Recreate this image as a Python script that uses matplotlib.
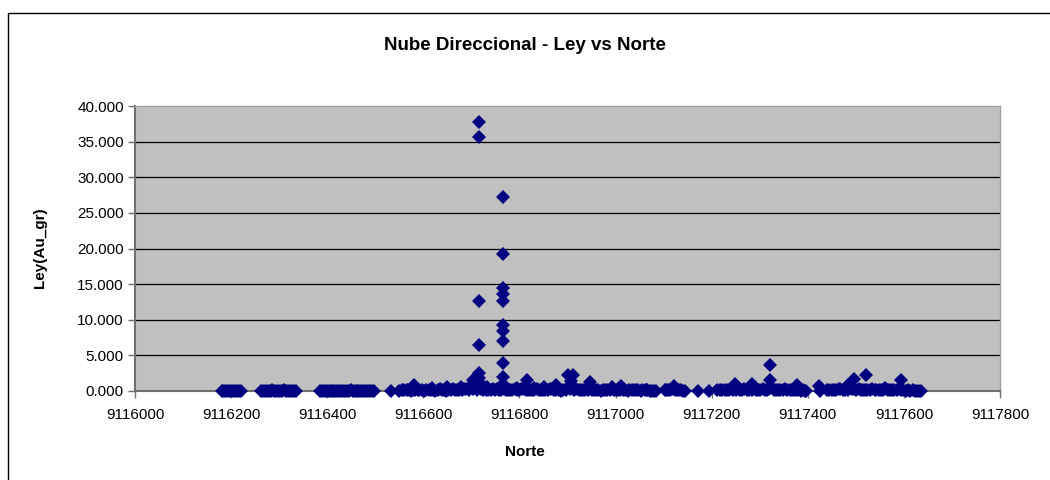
import matplotlib
matplotlib.use("Agg")
import matplotlib.pyplot as plt
from matplotlib.patches import Rectangle

plt.rcParams['font.family'] = ['Liberation Sans', 'DejaVu Sans']

# --- data: near-zero samples (Norte, Ley) ---
norte_bajo = [
    9116180, 9116188, 9116196, 9116204, 9116212, 9116220,
    9116262, 9116270, 9116278, 9116286, 9116294, 9116302, 9116310, 9116318, 9116326, 9116334,
    9116385, 9116393, 9116401, 9116409, 9116417, 9116425, 9116433, 9116441, 9116449, 9116457,
    9116465, 9116473, 9116481, 9116489, 9116497,
    9116532,
    9116550, 9116560, 9116569, 9116578, 9116588, 9116597, 9116606, 9116615, 9116625, 9116634,
    9116643, 9116652, 9116661, 9116670, 9116680, 9116689, 9116698, 9116707, 9116716, 9116725,
    9116735, 9116744, 9116753, 9116762, 9116771, 9116780, 9116790, 9116799, 9116808, 9116817,
    9116826, 9116836, 9116845, 9116854, 9116863, 9116872, 9116882, 9116891, 9116900, 9116909,
    9116918, 9116928, 9116937, 9116946, 9116955, 9116964, 9116974, 9116983, 9116992, 9117001,
    9117010, 9117020, 9117029, 9117038, 9117047, 9117056, 9117066, 9117075, 9117084,
    9117102, 9117110, 9117118, 9117128, 9117136, 9117144,
    9117171, 9117194,
    9117212, 9117222, 9117231, 9117240, 9117250, 9117259, 9117268, 9117278, 9117287, 9117296,
    9117306, 9117315, 9117324, 9117334, 9117343, 9117352, 9117362, 9117371, 9117380, 9117390,
    9117397,
    9117425,
    9117440, 9117450, 9117459, 9117468, 9117478, 9117487, 9117496, 9117506, 9117515, 9117524,
    9117534, 9117543, 9117552, 9117562, 9117571, 9117580, 9117590, 9117599, 9117608, 9117618,
    9117627, 9117635,
]
ley_bajo = [
    0.02, 0.01, 0.03, 0.02, 0.05, 0.01,
    0.02, 0.03, 0.05, 0.08, 0.04, 0.02, 0.10, 0.06, 0.03, 0.01,
    0.01, 0.02, 0.03, 0.02, 0.05, 0.04, 0.06, 0.03, 0.08, 0.05,
    0.04, 0.07, 0.03, 0.05, 0.02,
    0.02,
    0.05, 0.10, 0.20, 0.12, 0.08, 0.15, 0.20, 0.10, 0.05, 0.25,
    0.15, 0.10, 0.30, 0.12, 0.20, 0.35, 0.60, 0.90, 0.40, 0.20,
    0.15, 0.25, 0.30, 0.10, 0.20, 0.15, 0.25, 0.10, 0.30, 0.20,
    0.15, 0.25, 0.10, 0.20, 0.30, 0.15, 0.10, 0.20, 0.50, 0.40,
    0.30, 0.20, 0.15, 0.25, 0.10, 0.20, 0.15, 0.10, 0.25, 0.20,
    0.15, 0.10, 0.20, 0.15, 0.10, 0.08, 0.15, 0.05, 0.02,
    0.10, 0.20, 0.30, 0.15, 0.10, 0.05,
    0.03, 0.03,
    0.10, 0.20, 0.15, 0.30, 0.20, 0.10, 0.25, 0.15, 0.35, 0.20,
    0.30, 0.20, 0.50, 0.20, 0.15, 0.30, 0.10, 0.20, 0.15, 0.10,
    0.05,
    0.05,
    0.10, 0.20, 0.15, 0.30, 0.20, 0.40, 0.25, 0.30, 0.20, 0.15,
    0.30, 0.20, 0.15, 0.25, 0.10, 0.20, 0.30, 0.15, 0.10, 0.08,
    0.05, 0.02,
]

# --- data: additional low samples between the ones above ---
norte_bajo2 = [
    9116184, 9116192, 9116200, 9116208, 9116216,
    9116266, 9116274, 9116282, 9116290, 9116298, 9116306, 9116314, 9116322, 9116330,
    9116389, 9116397, 9116405, 9116413, 9116421, 9116429, 9116437, 9116445, 9116453, 9116461,
    9116469, 9116477, 9116485, 9116493,
    9116555, 9116565, 9116574, 9116583, 9116592, 9116602, 9116611, 9116620, 9116630, 9116639,
    9116648, 9116657, 9116666, 9116675, 9116685, 9116694, 9116703, 9116712, 9116721, 9116730,
    9116740, 9116749, 9116758, 9116767, 9116776, 9116785, 9116795, 9116804, 9116813, 9116822,
    9116831, 9116841, 9116850, 9116859, 9116868, 9116877, 9116887, 9116896, 9116905, 9116914,
    9116923, 9116933, 9116942, 9116951, 9116960, 9116969, 9116979, 9116988, 9116997, 9117006,
    9117015, 9117025, 9117034, 9117043, 9117052, 9117061, 9117071, 9117080,
    9117106, 9117114, 9117123, 9117132, 9117140,
    9117217, 9117227, 9117236, 9117245, 9117255, 9117264, 9117273, 9117283, 9117292, 9117301,
    9117311, 9117320, 9117329, 9117339, 9117348, 9117357, 9117367, 9117376, 9117385, 9117394,
    9117445, 9117455, 9117464, 9117473, 9117483, 9117492, 9117501, 9117511, 9117520, 9117529,
    9117539, 9117548, 9117557, 9117567, 9117576, 9117585, 9117595, 9117604, 9117613, 9117623,
    9117631,
]
ley_bajo2 = [
    0.01, 0.02, 0.01, 0.03, 0.02,
    0.01, 0.02, 0.04, 0.03, 0.02, 0.06, 0.03, 0.02, 0.01,
    0.02, 0.01, 0.03, 0.02, 0.04, 0.02, 0.03, 0.05, 0.02, 0.03,
    0.02, 0.04, 0.02, 0.01,
    0.08, 0.12, 0.05, 0.18, 0.10, 0.06, 0.14, 0.08, 0.20, 0.10,
    0.06, 0.18, 0.12, 0.08, 0.22, 0.10, 0.30, 0.15, 0.25, 0.10,
    0.20, 0.12, 0.08, 0.30, 0.10, 0.18, 0.08, 0.22, 0.12, 0.10,
    0.20, 0.08, 0.18, 0.12, 0.22, 0.10, 0.06, 0.15, 0.25, 0.18,
    0.10, 0.14, 0.08, 0.20, 0.12, 0.06, 0.18, 0.10, 0.08, 0.15,
    0.10, 0.06, 0.12, 0.08, 0.05, 0.10, 0.04, 0.02,
    0.12, 0.08, 0.20, 0.10, 0.06,
    0.12, 0.08, 0.18, 0.10, 0.22, 0.12, 0.08, 0.20, 0.10, 0.15,
    0.08, 0.25, 0.12, 0.10, 0.18, 0.08, 0.20, 0.12, 0.06, 0.04,
    0.08, 0.12, 0.22, 0.10, 0.18, 0.25, 0.12, 0.20, 0.10, 0.18,
    0.12, 0.08, 0.20, 0.10, 0.15, 0.08, 0.12, 0.06, 0.05, 0.04,
    0.02,
]

# --- data: elevated samples ---
norte_alto = [
    9116715, 9116715, 9116715, 9116715, 9116715, 9116715, 9116715,
    9116765, 9116765, 9116765, 9116765, 9116765, 9116765, 9116765, 9116765, 9116765, 9116765, 9116765,
    9116704, 9116581, 9116619, 9116650, 9116679, 9116733, 9116794,
    9116815, 9116831, 9116852, 9116877, 9116900, 9116912, 9116908, 9116946, 9116992, 9117012,
    9117065, 9117121, 9117248, 9117283, 9117321, 9117321, 9117377, 9117423,
    9117483, 9117496, 9117521, 9117560, 9117594,
]
ley_alto = [
    37.8, 35.7, 12.6, 6.4, 2.5, 1.8, 1.2,
    27.2, 19.2, 14.4, 13.6, 12.7, 9.3, 8.4, 7.0, 4.0, 2.0, 1.0,
    1.5, 0.8, 0.4, 0.5, 0.5, 0.5, 0.4,
    1.5, 0.4, 0.6, 0.9, 2.3, 2.3, 1.4, 1.2, 0.6, 0.7,
    0.2, 0.7, 1.05, 1.05, 3.7, 1.5, 0.9, 0.7,
    0.9, 1.75, 2.3, 0.4, 1.6,
]

x_ticks = [9116000, 9116200, 9116400, 9116600, 9116800, 9117000, 9117200, 9117400, 9117600, 9117800]
y_ticks = [0, 5, 10, 15, 20, 25, 30, 35, 40]

fig = plt.figure(figsize=(10.5, 4.8), dpi=100)
fig.patch.set_facecolor('white')

# outer chart border
fig.patches.append(Rectangle((8 / 1050, -0.2), 1.2, 0.2 + 1 - 13 / 480,
                             transform=fig.transFigure, fill=False,
                             edgecolor='black', linewidth=1.0))

ax = fig.add_axes([135 / 1050, 1 - 391 / 480, 865 / 1050, 285 / 480])
ax.set_facecolor('#C0C0C0')

ax.set_xlim(9116000, 9117800)
ax.set_ylim(0, 40)
ax.set_xticks(x_ticks)
ax.set_xticklabels([str(v) for v in x_ticks])
ax.set_yticks(y_ticks)
ax.set_yticklabels([f"{v:.3f}" for v in y_ticks])

for y in y_ticks[1:-1]:
    ax.axhline(y, color='black', linewidth=0.9, zorder=1)

for s in ['top', 'right']:
    ax.spines[s].set_color('#A0A0A0')
    ax.spines[s].set_linewidth(1.0)
for s in ['left', 'bottom']:
    ax.spines[s].set_color('#707070')
    ax.spines[s].set_linewidth(1.5)

ax.tick_params(axis='both', direction='out', length=5, width=1, color='#707070',
               labelsize=11, labelcolor='black')
ax.tick_params(axis='x', pad=7)
ax.tick_params(axis='y', pad=3)

style = dict(linestyle='none', marker='D', markersize=6.8, color='#000080',
             markeredgewidth=0, zorder=3, clip_on=False)
ax.plot(norte_bajo, ley_bajo, **style)
ax.plot(norte_bajo2, ley_bajo2, **style)
ax.plot(norte_alto, ley_alto, **style)

fig.text(0.5, 1 - 45 / 480, 'Nube Direccional - Ley vs Norte', ha='center', va='center',
         fontsize=13.5, fontweight='bold')
fig.text(525 / 1050 + 0.0, 1 - 452 / 480, 'Norte', ha='center', va='center',
         fontsize=11, fontweight='bold')
fig.text(40 / 1050, 1 - 248 / 480, 'Ley(Au_gr)', ha='center', va='center',
         rotation=90, fontsize=11, fontweight='bold')

fig.savefig('out.png', dpi=100)
